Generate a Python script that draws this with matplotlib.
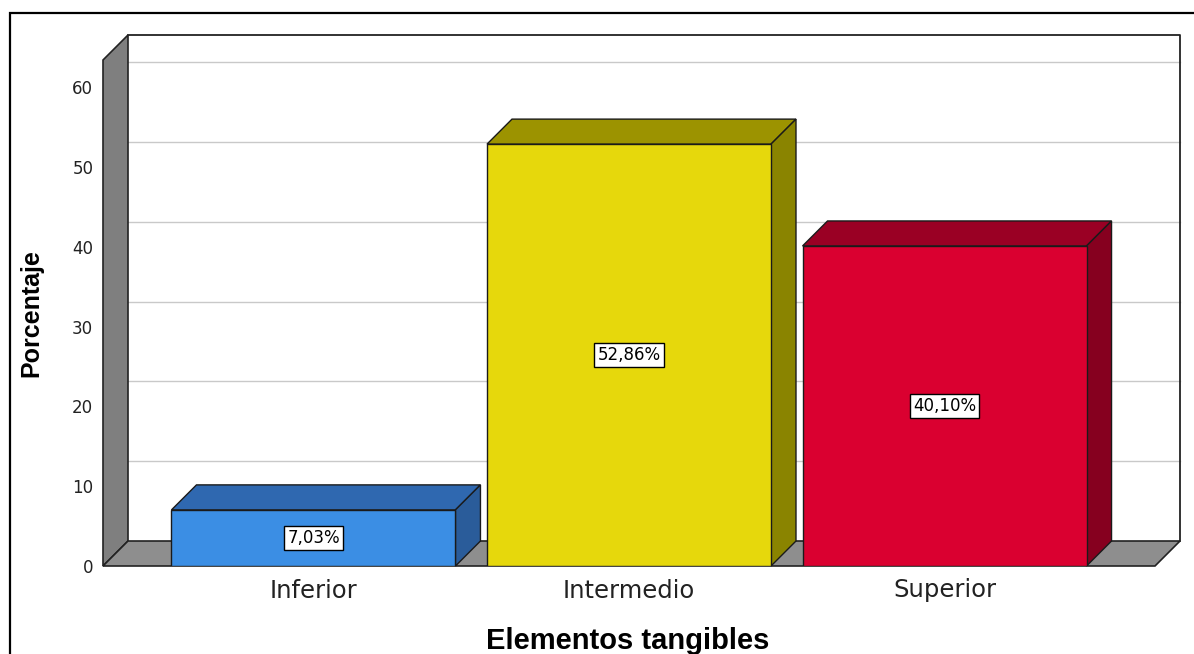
import matplotlib.pyplot as plt
from matplotlib.patches import Polygon, Rectangle

categories = ["Inferior", "Intermedio", "Superior"]
percentages = [7.03, 52.86, 40.10]
value_labels = ["7,03%", "52,86%", "40,10%"]
yticks = [0, 10, 20, 30, 40, 50, 60]

front_colors = ["#3b8ee4", "#e6d80c", "#da0030"]
top_colors = ["#2f68b0", "#9c9300", "#9a0024"]
side_colors = ["#2a5c9a", "#8a8400", "#86001f"]

W, H = 1194, 654
fig = plt.figure(figsize=(W / 100, H / 100), dpi=100)
fig.patch.set_facecolor("white")

# axes box = front plane of the 3d box
ax = fig.add_axes([103 / W, 1 - 566 / H, 1052 / W, 506 / H])
ymax = 63.4
x0, x1 = -0.667, 2.667
ax.set_xlim(x0, x1)
ax.set_ylim(0, ymax)
ax.patch.set_alpha(0)

# depth offset (25 px right, 25 px up) in data units
dx = 25 / 1052 * (x1 - x0)
dy = 25 / 506 * ymax

# back wall
ax.add_patch(Rectangle((x0 + dx, dy), x1 - x0, ymax, facecolor="white",
                       edgecolor="none", clip_on=False, zorder=0))
for t in yticks[1:]:
    ax.plot([x0 + dx, x1 + dx], [t + dy, t + dy], color="#c9c9c9", lw=1,
            clip_on=False, zorder=1)
ax.plot([x0 + dx, x1 + dx, x1 + dx], [ymax + dy, ymax + dy, dy],
        color="#222222", lw=1.3, clip_on=False, zorder=1)

# left wall and floor
left_wall = [(x0, 0), (x0, ymax), (x0 + dx, ymax + dy), (x0 + dx, dy)]
ax.add_patch(Polygon(left_wall, closed=True, facecolor="#7f7f7f",
                     edgecolor="#222222", lw=1.2, clip_on=False, zorder=2))
floor = [(x0, 0), (x1, 0), (x1 + dx, dy), (x0 + dx, dy)]
ax.add_patch(Polygon(floor, closed=True, facecolor="#8e8e8e",
                     edgecolor="#222222", lw=1.2, clip_on=False, zorder=2))

# bars
bw = 0.9
xs = list(range(len(categories)))
for i, v in enumerate(percentages):
    l, r = i - bw / 2, i + bw / 2
    top = [(l, v), (r, v), (r + dx, v + dy), (l + dx, v + dy)]
    side = [(r, 0), (r + dx, dy), (r + dx, v + dy), (r, v)]
    ax.add_patch(Polygon(top, closed=True, facecolor=top_colors[i],
                         edgecolor="#1a1a1a", lw=1, clip_on=False, zorder=3))
    ax.add_patch(Polygon(side, closed=True, facecolor=side_colors[i],
                         edgecolor="#1a1a1a", lw=1, clip_on=False, zorder=3))
ax.bar(xs, percentages, width=bw, color=front_colors, edgecolor="#1a1a1a",
       linewidth=1, zorder=4)

for i, v in enumerate(percentages):
    ax.text(i, v / 2, value_labels[i], ha="center", va="center", fontsize=12,
            color="black", zorder=5,
            bbox=dict(boxstyle="square,pad=0.18", facecolor="white",
                      edgecolor="black", lw=1))

for s in ax.spines.values():
    s.set_visible(False)
ax.set_yticks(yticks)
ax.set_yticklabels([str(t) for t in yticks], fontsize=12, color="#222222")
ax.set_xticks(xs)
ax.set_xticklabels(categories, fontsize=17.5, color="#222222")
ax.tick_params(axis="y", length=0, pad=7)
ax.tick_params(axis="x", length=0, pad=9)

fig.text(628 / W, 1 - 641 / H, "Elementos tangibles", ha="center", va="center",
         fontsize=21, fontweight="bold", family="Liberation Sans")
fig.text(31 / W, 1 - 313 / H, "Porcentaje", ha="center", va="center",
         rotation=90, fontsize=18, fontweight="bold", family="Liberation Sans")

# outer frame
fig.add_artist(Rectangle((10 / W, -0.05), 1.1, 1 - 13 / H + 0.05,
                         transform=fig.transFigure, fill=False,
                         edgecolor="black", lw=1.6))

fig.savefig("out.png", dpi=100)
